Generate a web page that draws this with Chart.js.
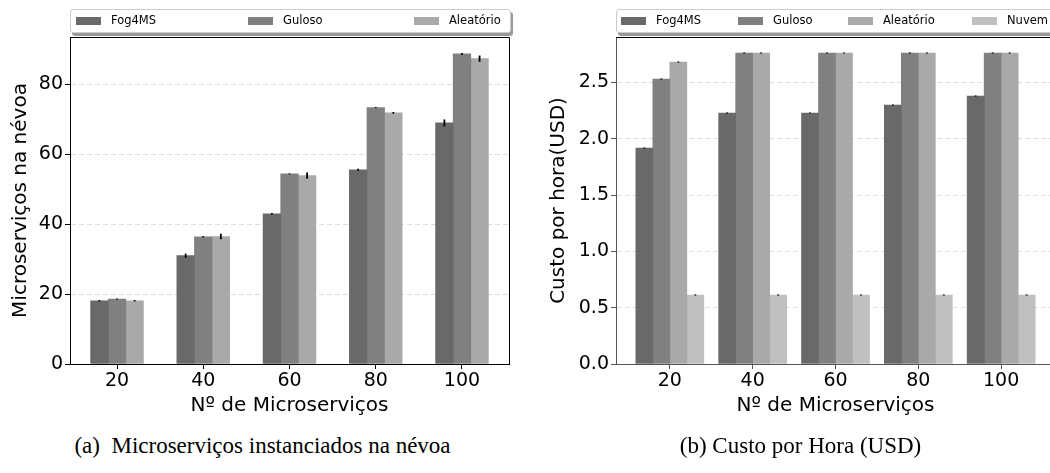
<!DOCTYPE html>
<html>
<head>
<meta charset="utf-8">
<script src="https://cdn.jsdelivr.net/npm/chart.js@4.4.0/dist/chart.umd.min.js"></script>
<style>
body { margin:0; width:1050px; height:473px; overflow:hidden; position:relative; background:#fff; font-family:'DejaVu Sans', sans-serif; }
canvas { position:absolute; top:0; }
#c1 { left:0; }
#c2 { left:525px; }
.legend { position:absolute; top:9px; height:22px; background:#fff; border:1px solid #ccc; border-radius:3px; box-shadow:2px 3px 0 #9a9a9a; font-size:11.5px; }
.legend .p { position:absolute; top:7px; width:25px; height:8px; }
.legend .t { position:absolute; top:3px; color:#000; white-space:nowrap; }
.caption { position:absolute; top:433px; font-family:'Liberation Serif', serif; font-size:23px; text-align:center; white-space:pre; }
</style>
</head>
<body>
<canvas id="c1" width="530" height="430"></canvas>
<canvas id="c2" width="540" height="430"></canvas>

<div class="legend" style="left:70px; width:439px;">
  <span class="p" style="left:5px; background:#696969"></span><span class="t" style="left:40px">Fog4MS</span>
  <span class="p" style="left:177px; background:#808080"></span><span class="t" style="left:212px">Guloso</span>
  <span class="p" style="left:343px; background:#a9a9a9"></span><span class="t" style="left:378px">Aleatório</span>
</div>
<div class="legend" style="left:616px; width:460px;">
  <span class="p" style="left:4px; background:#696969"></span><span class="t" style="left:39px">Fog4MS</span>
  <span class="p" style="left:121px; background:#808080"></span><span class="t" style="left:156px">Guloso</span>
  <span class="p" style="left:231px; background:#a9a9a9"></span><span class="t" style="left:266px">Aleatório</span>
  <span class="p" style="left:355px; background:#c0c0c0"></span><span class="t" style="left:390px">Nuvem</span>
</div>

<div class="caption" style="left:0; width:525px;">(a)  Microserviços instanciados na névoa</div>
<div class="caption" style="left:538px; width:525px;">(b) Custo por Hora (USD)</div>

<script>
// categorias (nº de microserviços)
const categories = ['20', '40', '60', '80', '100'];

// (a) microserviços instanciados na névoa
const fogInst = [18.1, 31.0, 43.0, 55.6, 69.0];
const gulosoInst = [18.6, 36.4, 54.4, 73.4, 88.8];
const aleatInst = [18.1, 36.5, 53.9, 71.9, 87.4];
const fogInstErr = [0.2, 0.6, 0.2, 0.3, 1.0];
const gulosoInstErr = [0.15, 0.2, 0.15, 0.15, 0.25];
const aleatInstErr = [0.2, 0.8, 0.9, 0.25, 0.9];

// (b) custo por hora (USD)
const fogCost = [1.918, 2.229, 2.229, 2.300, 2.380];
const gulosoCost = [2.531, 2.762, 2.762, 2.762, 2.762];
const aleatCost = [2.682, 2.762, 2.762, 2.762, 2.762];
const nuvemCost = [0.613, 0.613, 0.613, 0.613, 0.613];
const fogCostErr = [0.005, 0.005, 0.005, 0.005, 0.005];
const gulosoCostErr = [0.005, 0.005, 0.005, 0.005, 0.005];
const aleatCostErr = [0.005, 0.005, 0.005, 0.005, 0.005];
const nuvemCostErr = [0.005, 0.005, 0.005, 0.005, 0.005];

const instTicks = [0, 20, 40, 60, 80];
const costTicks = [0, 0.5, 1.0, 1.5, 2.0, 2.5];

const toPoints = arr => arr.map((v, i) => ({ x: i, y: v }));

// desenha as barras de erro
const errorBars = {
    id: 'errorBars',
    afterDatasetsDraw(chart) {
        const ctx = chart.ctx;
        const yScale = chart.scales.y;
        ctx.save();
        ctx.strokeStyle = '#000';
        ctx.lineWidth = 1.8;
        chart.data.datasets.forEach((ds, di) => {
            const meta = chart.getDatasetMeta(di);
            meta.data.forEach((bar, i) => {
                const v = ds.data[i].y, e = ds.err[i];
                ctx.beginPath();
                ctx.moveTo(bar.x, yScale.getPixelForValue(v - e));
                ctx.lineTo(bar.x, yScale.getPixelForValue(v + e));
                ctx.stroke();
            });
        });
        ctx.restore();
    }
};

// moldura superior / direita
const frame = {
    id: 'frame',
    afterDraw(chart, args, opts) {
        const a = chart.chartArea, ctx = chart.ctx;
        ctx.save();
        ctx.strokeStyle = opts.color;
        ctx.lineWidth = 1;
        ctx.beginPath();
        ctx.moveTo(a.left, a.top + 0.5);
        ctx.lineTo(a.right + 0.5, a.top + 0.5);
        ctx.lineTo(a.right + 0.5, a.bottom);
        ctx.stroke();
        ctx.restore();
    }
};

function makeOptions(cfg) {
    return {
        responsive: false,
        animation: false,
        devicePixelRatio: 1,
        layout: { padding: { top: 37, right: cfg.padRight, left: 0, bottom: 0 } },
        plugins: {
            legend: { display: false },
            tooltip: { enabled: false },
            frame: { color: cfg.frameColor }
        },
        scales: {
            x: {
                type: 'linear',
                offset: false,
                min: cfg.xMin,
                max: cfg.xMax,
                afterBuildTicks: s => { s.ticks = categories.map((c, i) => ({ value: i })); },
                afterFit: s => { s.height = 66; },
                ticks: {
                    callback: v => categories[v],
                    color: '#000',
                    font: { family: 'DejaVu Sans', size: 19 },
                    padding: 1,
                    maxRotation: 0
                },
                grid: { offset: false, drawOnChartArea: false, tickLength: 5, color: cfg.axisColor },
                border: { color: cfg.axisColor, width: 1 },
                title: {
                    display: true,
                    text: 'Nº de Microserviços',
                    color: '#000',
                    font: { family: 'DejaVu Sans', size: 20 },
                    padding: { top: 0, bottom: 12 }
                }
            },
            y: {
                min: 0,
                max: cfg.yMax,
                afterBuildTicks: s => { s.ticks = cfg.yTicks.map(v => ({ value: v })); },
                afterFit: s => { s.width = cfg.yWidth; },
                ticks: {
                    callback: cfg.yFmt,
                    color: '#000',
                    font: { family: 'DejaVu Sans', size: 19 },
                    padding: 2
                },
                grid: { color: '#dddddd', tickColor: cfg.axisColor, tickLength: 5, lineWidth: 1 },
                border: { color: cfg.axisColor, width: 1, dash: [5, 3] },
                title: {
                    display: true,
                    text: cfg.yTitle,
                    color: '#000',
                    font: { family: 'DejaVu Sans', size: 20 },
                    padding: { top: cfg.yTitlePad, bottom: 0 }
                }
            }
        }
    };
}

new Chart(document.getElementById('c1'), {
    type: 'bar',
    data: {
        datasets: [
            { label: 'Fog4MS', data: toPoints(fogInst), err: fogInstErr, backgroundColor: '#696969', barThickness: 17.6 },
            { label: 'Guloso', data: toPoints(gulosoInst), err: gulosoInstErr, backgroundColor: '#808080', barThickness: 17.6 },
            { label: 'Aleatório', data: toPoints(aleatInst), err: aleatInstErr, backgroundColor: '#a9a9a9', barThickness: 17.6 }
        ]
    },
    options: makeOptions({
        padRight: 21, xMin: -0.545, xMax: 4.545, yMax: 93.6, yTicks: instTicks,
        yFmt: v => String(v), yWidth: 70, yTitle: 'Microserviços na névoa', yTitlePad: 9,
        axisColor: '#000', frameColor: '#000'
    }),
    plugins: [errorBars, frame]
});

new Chart(document.getElementById('c2'), {
    type: 'bar',
    data: {
        datasets: [
            { label: 'Fog4MS', data: toPoints(fogCost), err: fogCostErr, backgroundColor: '#696969', barThickness: 17 },
            { label: 'Guloso', data: toPoints(gulosoCost), err: gulosoCostErr, backgroundColor: '#808080', barThickness: 17 },
            { label: 'Aleatório', data: toPoints(aleatCost), err: aleatCostErr, backgroundColor: '#a9a9a9', barThickness: 17 },
            { label: 'Nuvem', data: toPoints(nuvemCost), err: nuvemCostErr, backgroundColor: '#c0c0c0', barThickness: 17 }
        ]
    },
    options: makeOptions({
        padRight: 10, xMin: -0.65, xMax: 4.65, yMax: 2.904, yTicks: costTicks,
        yFmt: v => v.toFixed(1), yWidth: 91, yTitle: 'Custo por hora(USD)', yTitlePad: 22,
        axisColor: '#555', frameColor: '#000'
    }),
    plugins: [errorBars, frame]
});
</script>
</body>
</html>
